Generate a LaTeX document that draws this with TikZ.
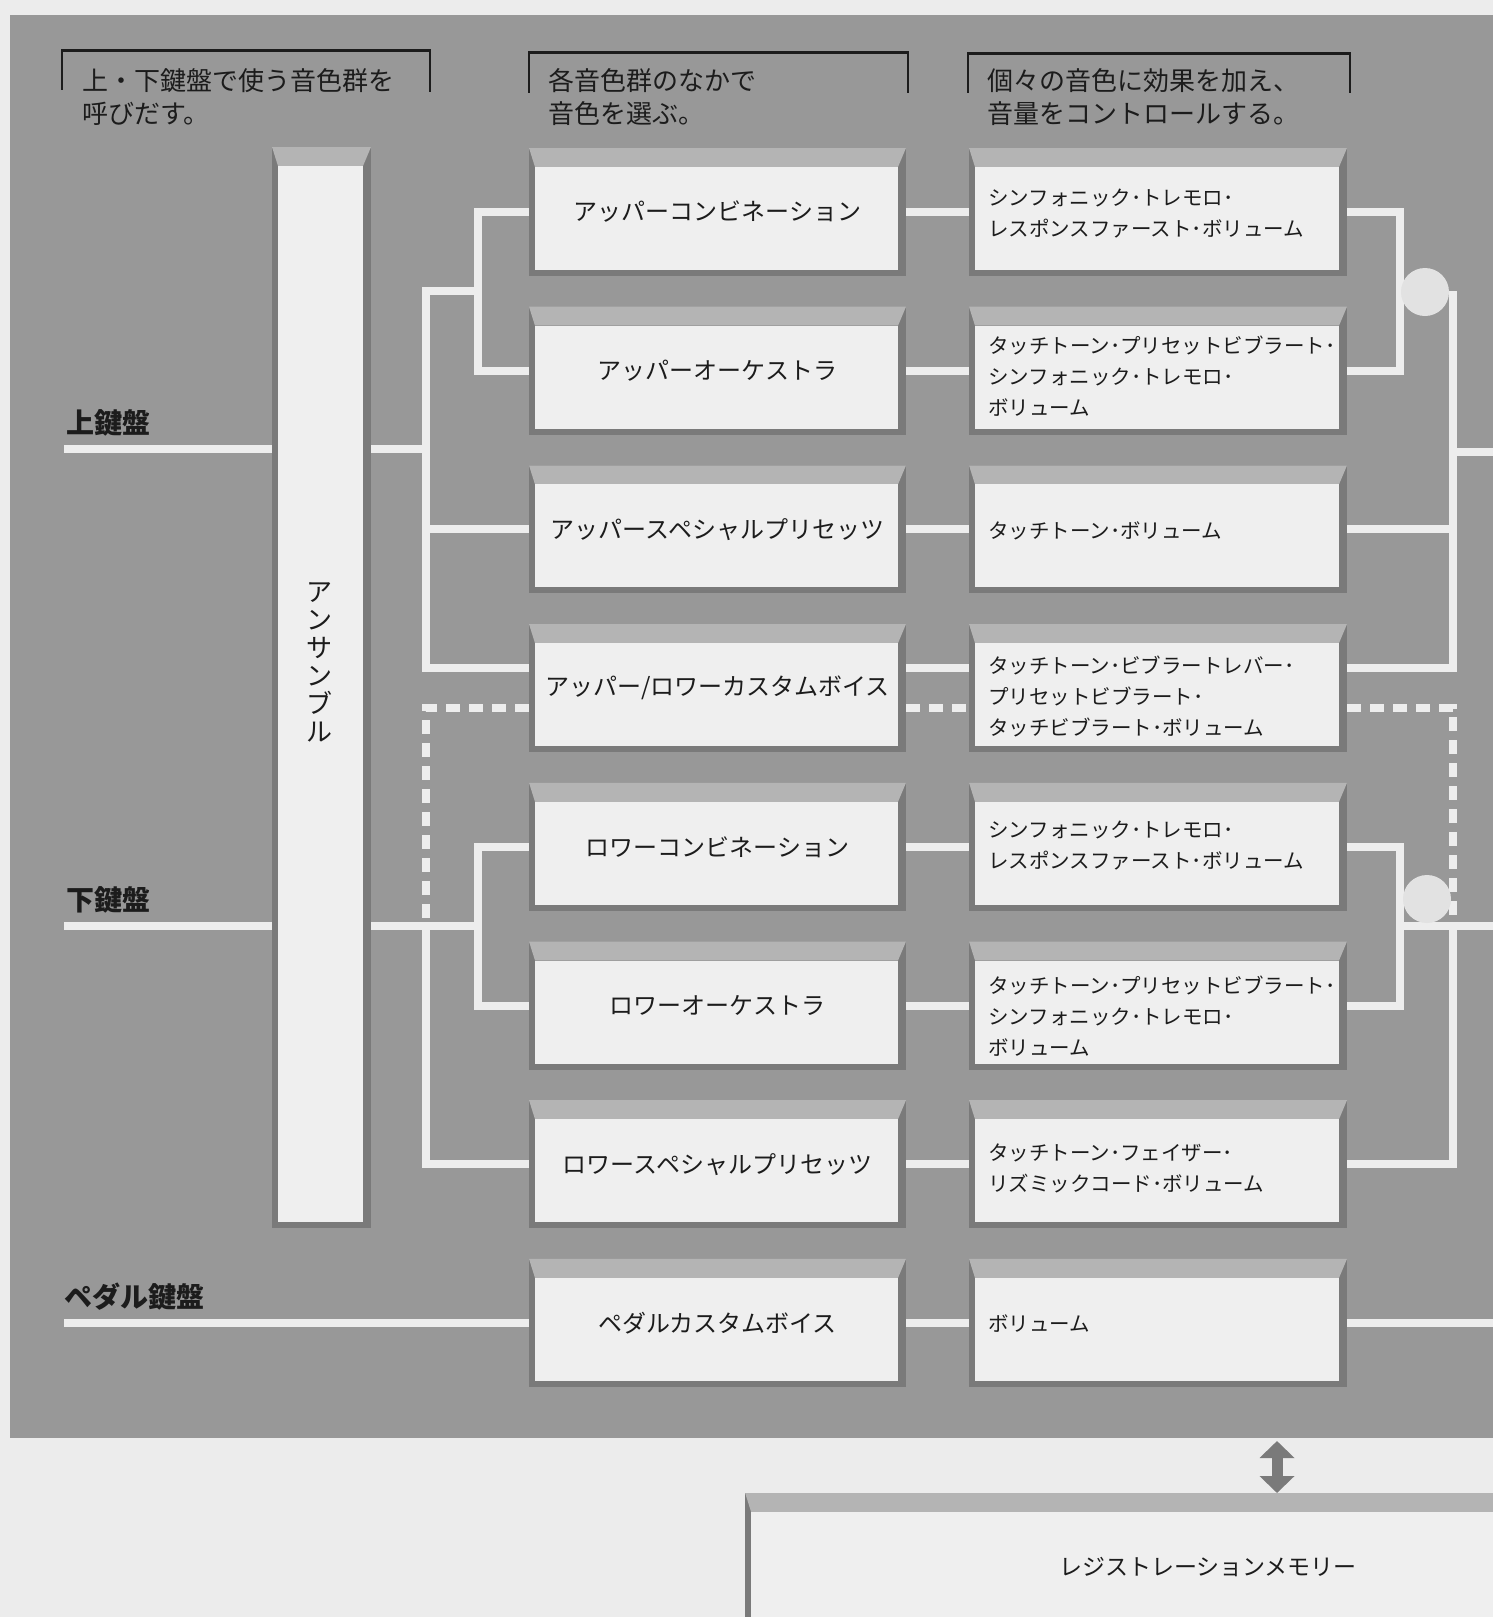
\documentclass[tikz,border=0pt]{standalone}
\usepackage{fontspec}
\setmainfont{Noto Sans CJK JP}
\usetikzlibrary{arrows.meta,calc}
\definecolor{pagebg}{HTML}{ECECEC}
\definecolor{areabg}{HTML}{989898}
\definecolor{frameD}{HTML}{7A7A7A}
\definecolor{bevelC}{HTML}{B4B4B4}
\definecolor{innerC}{HTML}{EFEFEF}
\definecolor{lineC}{HTML}{EDEDED}
\definecolor{inkC}{HTML}{1C1C1C}
\definecolor{dotC}{HTML}{E2E2E2}
\tikzset{
  panel/.style={rectangle, inner sep=0pt, fill=frameD, text=inkC,
    path picture={
      \fill[bevelC] (path picture bounding box.north west) -- (path picture bounding box.north east)
        -- ([xshift=-8pt,yshift=-19pt]path picture bounding box.north east)
        -- ([xshift=6pt,yshift=-19pt]path picture bounding box.north west) -- cycle;
      \fill[innerC] ([xshift=6pt,yshift=-19pt]path picture bounding box.north west)
        rectangle ([xshift=-8pt,yshift=6pt]path picture bounding box.south east);
    }},
  coltwo/.style={panel, minimum width=377pt, minimum height=128pt, font=\fontsize{24pt}{28pt}\selectfont},
  colthree/.style={panel, minimum width=378pt, minimum height=128pt},
  cthree/.style={anchor=west, align=left, inner sep=0pt, text=inkC, font=\fontsize{20.5pt}{31pt}\selectfont},
  headtxt/.style={anchor=west, align=left, inner sep=0pt, text=inkC, font=\fontsize{26pt}{33pt}\selectfont},
  kbdlbl/.style={anchor=west, inner sep=0pt, text=inkC, font=\fontsize{28pt}{30pt}\selectfont\bfseries},
  wline/.style={draw=lineC, line width=8pt, line join=miter},
  dline/.style={wline, dash pattern=on 14pt off 9pt},
  jdot/.style={circle, fill=dotC, minimum size=48pt, inner sep=0pt},
}
\begin{document}
\begin{tikzpicture}[x=1pt,y=-1pt]
\useasboundingbox (0,0) rectangle (1493,1617);
\clip (0,0) rectangle (1493,1617);
\fill[pagebg] (0,0) rectangle (1493,1617);
\fill[areabg] (10,15) rectangle (1493,1438);

% header brackets
\draw[line width=3pt,inkC] (62,50) -- (430,50);
\draw[line width=2pt,inkC] (62,49) -- (62,90) (430,49) -- (430,92);
\draw[line width=3pt,inkC] (529,52) -- (908,52);
\draw[line width=2pt,inkC] (529,51) -- (529,93) (908,51) -- (908,93);
\draw[line width=3pt,inkC] (968,53) -- (1350,53);
\draw[line width=2pt,inkC] (968,52) -- (968,93) (1350,52) -- (1350,93);
\node[headtxt] (h1) at (82,97) {上・下鍵盤で使う音色群を\\呼びだす。};
\node[headtxt] (h2) at (548,97) {各音色群のなかで\\音色を選ぶ。};
\node[headtxt] (h3) at (987,97) {個々の音色に効果を加え、\\音量をコントロールする。};

% keyboard labels
\node[kbdlbl] (lu) at (66,423) {上鍵盤};
\node[kbdlbl] (ll) at (66,900) {下鍵盤};
\node[kbdlbl] (lp) at (64,1297) {ペダル鍵盤};

% ensemble bar
\node[panel, minimum width=99pt, minimum height=1081pt] (ens) at (321.5,687.5) {};
\node[inner sep=0pt, align=center, text=inkC, font=\fontsize{26pt}{28pt}\selectfont] (enst) at (319,662) {ア\\ン\\サ\\ン\\ブ\\ル};

% column 2
\node[coltwo] (a1) at (717.5,212) {アッパーコンビネーション};
\node[coltwo] (a2) at (717.5,370.7) {アッパーオーケストラ};
\node[coltwo] (a3) at (717.5,529.4) {アッパースペシャルプリセッツ};
\node[coltwo] (a4) at (717.5,688.1) {アッパー/ロワーカスタムボイス};
\node[coltwo] (a5) at (717.5,846.8) {ロワーコンビネーション};
\node[coltwo] (a6) at (717.5,1005.5) {ロワーオーケストラ};
\node[coltwo] (a7) at (717.5,1164.2) {ロワースペシャルプリセッツ};
\node[coltwo] (a8) at (717.5,1322.9) {ペダルカスタムボイス};

% column 3
\node[colthree] (b1) at (1158,212) {};
\node[colthree] (b2) at (1158,370.7) {};
\node[colthree] (b3) at (1158,529.4) {};
\node[colthree] (b4) at (1158,688.1) {};
\node[colthree] (b5) at (1158,846.8) {};
\node[colthree] (b6) at (1158,1005.5) {};
\node[colthree] (b7) at (1158,1164.2) {};
\node[colthree] (b8) at (1158,1322.9) {};
\node[cthree] (t1) at (988,214) {シンフォニック･トレモロ･\\レスポンスファースト･ボリューム};
\node[cthree] (t2) at (988,376) {タッチトーン･プリセットビブラート･\\シンフォニック･トレモロ･\\ボリューム};
\node[cthree] (t3) at (988,531) {タッチトーン･ボリューム};
\node[cthree] (t4) at (988,696) {タッチトーン･ビブラートレバー･\\プリセットビブラート･\\タッチビブラート･ボリューム};
\node[cthree] (t5) at (988,846) {シンフォニック･トレモロ･\\レスポンスファースト･ボリューム};
\node[cthree] (t6) at (988,1016) {タッチトーン･プリセットビブラート･\\シンフォニック･トレモロ･\\ボリューム};
\node[cthree] (t7) at (988,1168) {タッチトーン･フェイザー･\\リズミックコード･ボリューム};
\node[cthree] (t8) at (988,1324) {ボリューム};

% registration memory
\node[panel, minimum width=800pt, minimum height=170pt, anchor=north west] (reg) at (745,1493) {};
\node[inner sep=0pt, text=inkC, font=\fontsize{23pt}{27pt}\selectfont] (regt) at (1208,1567) {レジストレーションメモリー};
\coordinate (arrtop) at (1277,1441);
\draw[draw=frameD, line width=11pt, {Triangle[width=34pt,length=17pt]}-{Triangle[width=34pt,length=17pt]}] (arrtop) -- (arrtop |- reg.north);

% coordinates for brackets
\coordinate (ku) at (64,449);
\coordinate (bu) at (426,449);
\coordinate (bui) at (478,291.35);
\coordinate (kl) at (64,926.15);
\coordinate (bl) at (426,926.15);
\coordinate (bli) at (478,926.15);
\coordinate (kp) at (64,1322.9);
\coordinate (rui) at (1400,291.35);
\coordinate (ru) at (1453,291.35);
\coordinate (rx1) at (1493,452);
\coordinate (rli) at (1400,926.15);
\coordinate (rl) at (1453,926.15);
\coordinate (rx2) at (1493,926.15);

% left: upper keyboard
\draw[wline] (ku) -- (ku -| ens.west);
\draw[wline] (ku -| ens.east) -- (bu);
\draw[wline] (a1.west) -| (bui) |- (a2.west);
\draw[wline] (bui) -- (bui -| bu) |- ([yshift=20pt]a4.west);
\draw[wline] (a3.west) -- (a3.west -| bu);
\draw[dline] ([yshift=-20pt]a4.west) -| (bl);
% left: lower keyboard
\draw[wline] (kl) -- (kl -| ens.west);
\draw[wline] (kl -| ens.east) -- (bli);
\draw[wline] (a5.west) -| (bli) |- (a6.west);
\draw[wline] (bl) |- (a7.west);
% pedal
\draw[wline] (kp) -- (a8.west);

% between columns
\foreach \i in {1,2,3,5,6,7,8} {\draw[wline] (a\i.east) -- (b\i.west);}
\draw[wline] ([yshift=20pt]a4.east) -- ([yshift=20pt]b4.west);
\draw[dline] ([yshift=-20pt]a4.east) -- ([yshift=-20pt]b4.west);

% right: upper
\draw[wline] (b1.east) -| (rui) |- (b2.east);
\draw[wline] (ru) |- ([yshift=20pt]b4.east);
\draw[wline] (b3.east) -- (b3.east -| ru);
\draw[wline] (rx1 -| ru) -- (rx1);
\draw[dline] ([yshift=-20pt]b4.east) -| (rl);
% right: lower
\draw[wline] (b5.east) -| (rli) |- (b6.east);
\draw[wline] (rli) -- (rx2);
\draw[wline] (rl) |- (b7.east);
\draw[wline] (b8.east) -- (b8.east -| rx2);

\node[jdot] (d1) at (1425,292) {};
\node[jdot] (d2) at (1427,899) {};
\end{tikzpicture}
\end{document}
